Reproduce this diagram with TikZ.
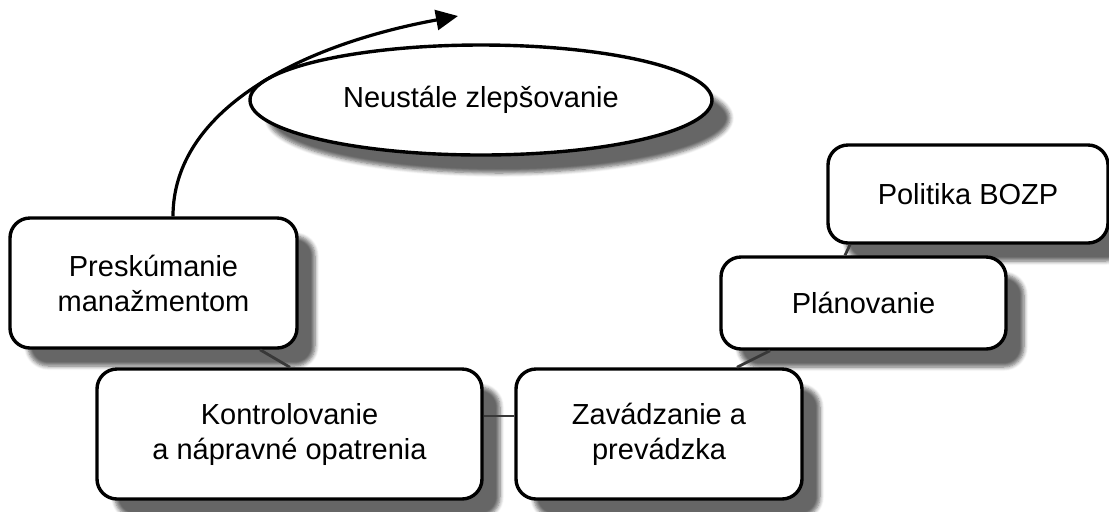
\documentclass[tikz,border=0pt]{standalone}
\usepackage{fontspec}
\setmainfont{Liberation Sans}
\usetikzlibrary{shapes.geometric,arrows.meta,shadows.blur}
\tikzset{
  shad/.style={blur shadow={shadow xshift=9pt, shadow yshift=-9pt, shadow blur radius=2pt, shadow blur steps=6, shadow opacity=60}},
  stepbox/.style={draw, line width=1.7pt, rounded corners=10pt, fill=white, align=center, inner sep=0pt, shad,
    font=\fontsize{14.5pt}{17.5pt}\selectfont},
  oval/.style={ellipse, draw, line width=1.7pt, fill=white, inner sep=0pt, shad,
    font=\fontsize{14.5pt}{17.5pt}\selectfont},
  conn/.style={draw=black!78, line width=1.4pt},
  cyc/.style={line width=1.6pt, -{Triangle[length=11pt,width=10pt]}}
}
\begin{document}
\begin{tikzpicture}[x=0.5pt,y=-0.5pt]
\useasboundingbox (0,0) rectangle (1109,511);
% nodes
\node[oval, minimum width=231pt, minimum height=55pt] (ell) at (481,100) {Neustále zlepšovanie};
\node[stepbox, minimum width=140pt, minimum height=49pt] (pol) at (968,194) {Politika BOZP};
\node[stepbox, minimum width=142.5pt, minimum height=46pt] (plan) at (863.5,303) {Plánovanie};
\node[stepbox, minimum width=143.5pt, minimum height=65pt] (pres) at (153.5,283) {Preskúmanie\\manažmentom};
\node[stepbox, minimum width=192.5pt, minimum height=65pt] (kon) at (289.5,434) {Kontrolovanie\\a nápravné opatrenia};
\node[stepbox, minimum width=143pt, minimum height=65pt] (zav) at (659,434) {Zavádzanie a\\prevádzka};
% connectors between boxes
\draw[conn] ([xshift=53.25pt]pres.south) -- ([xshift=0.25pt]kon.north);
\draw[conn] ([yshift=9pt]kon.east) -- ([yshift=9pt]zav.west);
\draw[conn] ([xshift=39pt]zav.north) -- ([xshift=-46.75pt]plan.south);
\draw[conn] ([xshift=-9.25pt]plan.north) -- ([xshift=-59pt]pol.south);
% improvement arrow
\coordinate (tip) at (458,16);
\draw[cyc] ([xshift=9.75pt]pres.north) .. controls (173,110) and (300,45) .. (tip);
\end{tikzpicture}
\end{document}
